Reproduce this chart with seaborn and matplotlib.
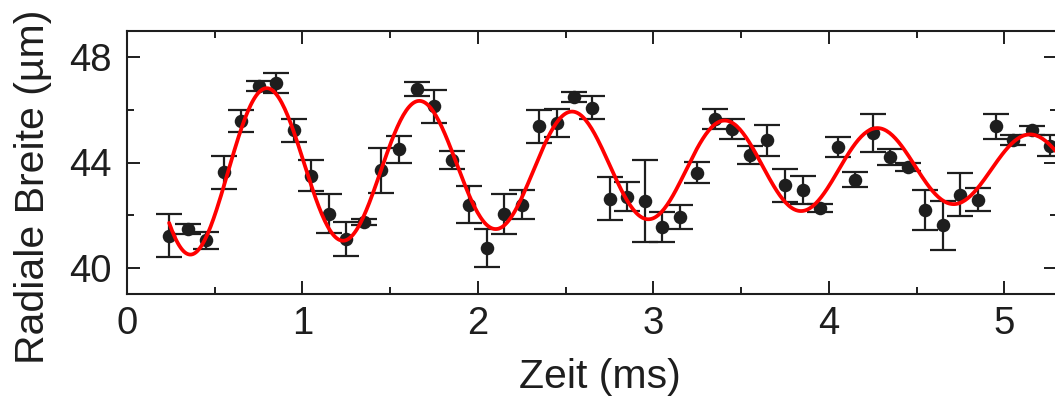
import numpy as np
import pandas as pd
import matplotlib
matplotlib.use("Agg")
import matplotlib.pyplot as plt
import seaborn as sns
from matplotlib.ticker import MultipleLocator

# measured points: time (ms), radial width (um), error (um)
zeit = [0.24, 0.35, 0.45, 0.55, 0.65, 0.75, 0.85, 0.95, 1.05, 1.15,
        1.25, 1.35, 1.45, 1.55, 1.65, 1.75, 1.85, 1.95, 2.05, 2.15,
        2.25, 2.35, 2.45, 2.55, 2.65, 2.75, 2.85, 2.95, 3.05, 3.15,
        3.25, 3.35, 3.45, 3.55, 3.65, 3.75, 3.85, 3.95, 4.05, 4.15,
        4.25, 4.35, 4.45, 4.55, 4.65, 4.75, 4.85, 4.95, 5.05, 5.16, 5.26]
breite = [41.22, 41.47, 41.04, 43.63, 45.57, 46.91, 47.01, 45.23, 43.50, 42.05,
          41.09, 41.73, 43.70, 44.50, 46.78, 46.14, 44.11, 42.40, 40.75, 42.05,
          42.40, 45.38, 45.49, 46.50, 46.08, 42.63, 42.69, 42.53, 41.55, 41.93,
          43.61, 45.64, 45.28, 44.30, 44.85, 43.14, 42.97, 42.27, 44.60, 43.35,
          45.13, 44.22, 43.82, 42.18, 41.61, 42.78, 42.59, 45.38, 44.85, 45.22, 44.64]
fehler = [0.82, 0.20, 0.33, 0.63, 0.41, 0.19, 0.38, 0.44, 0.60, 0.74,
          0.65, 0.11, 0.85, 0.51, 0.27, 0.62, 0.34, 0.69, 0.72, 0.75,
          0.56, 0.62, 0.53, 0.19, 0.43, 0.82, 0.55, 1.57, 0.57, 0.44,
          0.40, 0.38, 0.37, 0.34, 0.59, 0.63, 0.53, 0.17, 0.38, 0.30,
          0.73, 0.30, 0.16, 0.76, 0.93, 0.83, 0.43, 0.48, 0.19, 0.17, 0.40]

# damped oscillation fit, parameters
fit_offset = 43.8      # um
fit_amp = 3.55         # um
fit_tau = 5.0          # ms
fit_period = 0.87      # ms
fit_peak = 0.80        # ms, time of first maximum
fit_start, fit_end = 0.24, 5.3

df = pd.DataFrame({"Zeit": zeit, "Breite": breite, "Fehler": fehler})
t = np.linspace(fit_start, fit_end, 600)
fit = pd.DataFrame({"Zeit": t,
                    "Breite": fit_offset + fit_amp * np.exp(-t / fit_tau)
                    * np.cos(2 * np.pi * (t - fit_peak) / fit_period)})

sns.set_theme(style="ticks")
plt.rcParams['font.family'] = ['Liberation Sans', 'DejaVu Sans']

fig = plt.figure(figsize=(10.55, 3.97), dpi=100)
ax = fig.add_axes([127 / 1055, 103 / 397, 930 / 1055, 263 / 397])

ink = "#1e1e1e"
ax.errorbar(df.Zeit, df.Breite, yerr=df.Fehler, fmt="none", ecolor=ink,
            elinewidth=1.6, capsize=9.4, capthick=1.6, zorder=2)
sns.scatterplot(data=df, x="Zeit", y="Breite", ax=ax, color=ink, s=95,
                edgecolor=ink, linewidth=0, zorder=3)
sns.lineplot(data=fit, x="Zeit", y="Breite", ax=ax, color="#ff0000",
             linewidth=2.7, zorder=4)

ax.set_xlim(0, 5.3)
ax.set_ylim(39, 49)
ax.xaxis.set_major_locator(MultipleLocator(1))
ax.xaxis.set_minor_locator(MultipleLocator(0.5))
ax.yaxis.set_major_locator(MultipleLocator(4))
ax.yaxis.set_minor_locator(MultipleLocator(2))
ax.tick_params(which="both", direction="in", top=True, right=True,
               width=1.4, color=ink, labelsize=27.5, labelcolor=ink)
ax.tick_params(which="major", length=9.5)
ax.tick_params(which="minor", length=5)
ax.tick_params(axis="x", pad=9)
ax.tick_params(axis="y", pad=11)
for s in ax.spines.values():
    s.set_linewidth(1.5)
    s.set_color(ink)

ax.set_xlabel("Zeit (ms)", fontsize=29.5, color=ink)
ax.set_ylabel("Radiale Breite (µm)", fontsize=29.5, color=ink)
ax.xaxis.set_label_coords(0.5086, -0.245)
ax.yaxis.set_label_coords(-0.081, 0.407)

fig.savefig("out.png", dpi=100)
